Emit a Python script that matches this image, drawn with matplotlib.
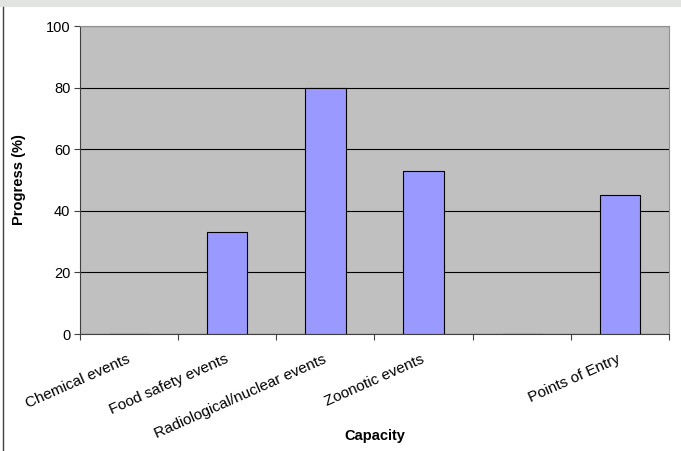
import numpy as np
import matplotlib.pyplot as plt
from matplotlib.patches import Rectangle
from matplotlib.lines import Line2D

plt.rcParams['font.family'] = ['Liberation Sans', 'DejaVu Sans']

categories = ['Chemical events', 'Food safety events', 'Radiological/nuclear events',
              'Zoonotic events', '', 'Points of Entry']
progress = [0, 33, 80, 53, 0, 45]
y_ticks = [0, 20, 40, 60, 80, 100]

fig = plt.figure(figsize=(6.81, 4.51), dpi=100)
fig.patch.set_facecolor('white')

# light grey strip along the top and the thin frame line on the left
fig.patches.append(Rectangle((0, 1 - 7 / 451), 1, 7 / 451, transform=fig.transFigure,
                             facecolor='#e2e4e2', edgecolor='none'))
fig.lines.append(Line2D([2.5 / 681, 2.5 / 681], [0, 1 - 7 / 451], transform=fig.transFigure,
                        color='#404040', linewidth=1))

ax = fig.add_axes([80 / 681, 1 - 334 / 451, (669 - 80) / 681, (334 - 26) / 451])
ax.set_facecolor('#c0c0c0')

x = np.arange(len(categories))
ax.bar(x, progress, width=0.41, color='#9999ff', edgecolor='black', linewidth=0.8, zorder=3)

ax.set_xlim(-0.5, len(categories) - 0.5)
ax.set_ylim(0, 100)
ax.set_yticks(y_ticks)
ax.yaxis.grid(True, color='black', linewidth=0.8, zorder=1)
ax.set_axisbelow(True)

# category boundaries carry the tick marks, labels sit at the centres
ax.set_xticks(np.arange(len(categories) + 1) - 0.5)
ax.set_xticklabels([])
ax.tick_params(axis='x', length=4, direction='out', color='#404040')
ax.tick_params(axis='y', length=4, direction='out', color='#404040', labelsize=10.5,
               labelcolor='black', pad=3)

for xi, lab in zip(x, categories):
    ax.annotate(lab, xy=(xi, 0), xycoords=('data', 'axes fraction'),
                xytext=(-2, -13), textcoords='offset points',
                ha='right', va='top', rotation=24, rotation_mode='anchor', fontsize=11)

for side in ['top', 'right']:
    ax.spines[side].set_color('#909090')
ax.spines['left'].set_color('#404040')
ax.spines['bottom'].set_color('#404040')

ax.set_ylabel('Progress (%)', fontsize=10.5, fontweight='bold', labelpad=14)
fig.text(375 / 681, 1 - 436 / 451, 'Capacity', fontsize=10.5, fontweight='bold',
         ha='center', va='center')

fig.savefig('out.png', dpi=100)
